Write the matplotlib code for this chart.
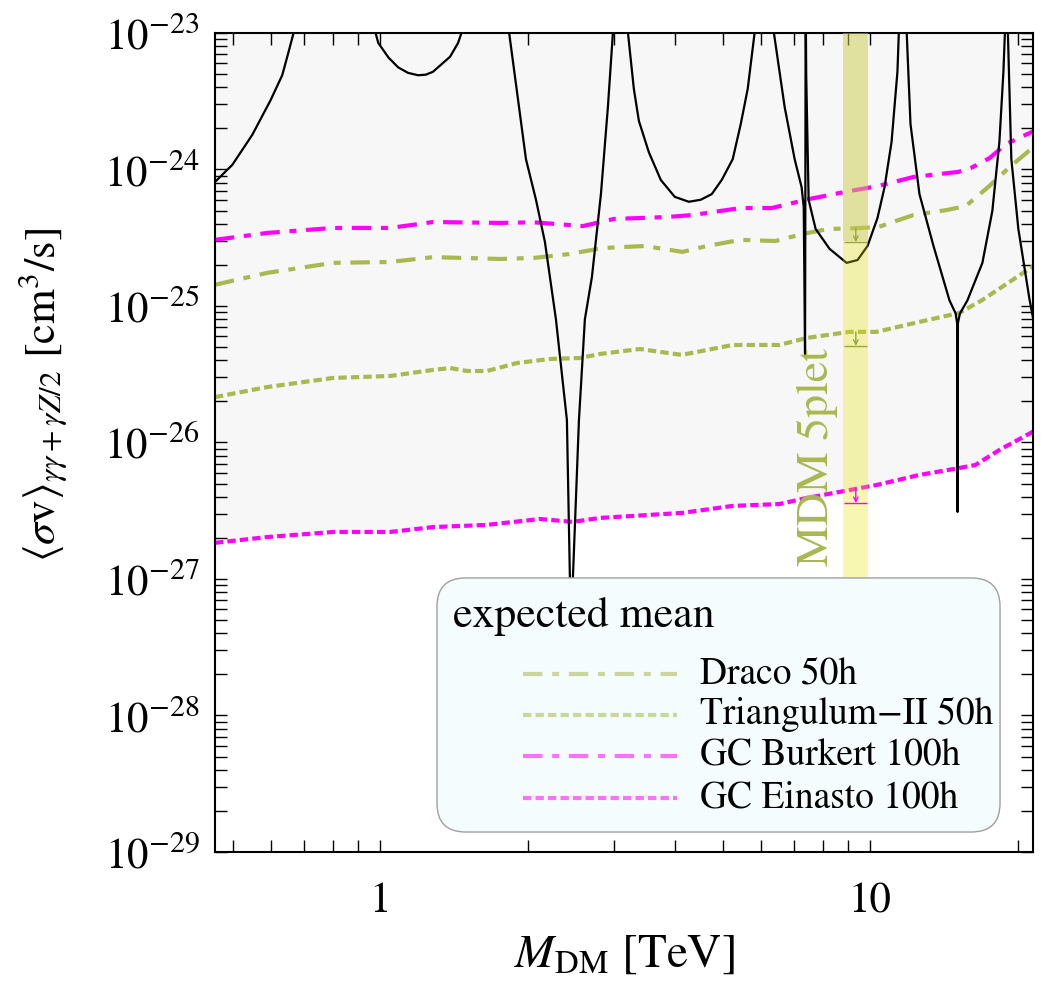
#!/usr/bin/env python3
"""
MDM 5plet gamma-line cross section vs expected sensitivities
"""
import numpy as np
import matplotlib.pyplot as plt
import matplotlib.ticker as mticker
from matplotlib.patches import FancyBboxPatch

plt.rcParams['font.family'] = ['STIXGeneral', 'Liberation Serif', 'DejaVu Serif']
plt.rcParams['mathtext.fontset'] = 'stix'
plt.rcParams['lines.scale_dashes'] = False

OLIVE = '#a9b84f'
MAGENTA = '#ff00ff'

# ── theory curve (black), one piece between successive resonance poles ──
seg1_m  = [0.46, 0.499, 0.548, 0.597, 0.631, 0.649, 0.668]
seg1_sv = [8.1e-25, 1.08e-24, 1.79e-24, 3.2e-24, 4.9e-24, 7.1e-24, 1.05e-23]

seg2_m  = [0.975, 0.991, 1.04, 1.088, 1.14, 1.195, 1.24, 1.282, 1.389, 1.442, 1.472]
seg2_sv = [1.05e-23, 8.45e-24, 6.6e-24, 5.6e-24, 5.1e-24, 4.9e-24, 4.95e-24, 5.2e-24,
           6.7e-24, 8.45e-24, 1.05e-23]

seg3_m  = [1.83, 1.984, 2.08, 2.169, 2.284, 2.405, 2.439, 2.456, 2.474, 2.545, 2.617,
           2.705, 2.822, 2.916, 2.988]
seg3_sv = [1.05e-23, 1.19e-24, 5.98e-25, 2.94e-25, 8.0e-26, 1.46e-26, 1.03e-27, 3e-28,
           1.03e-27, 1.46e-26, 8.0e-26, 1.63e-25, 6.6e-25, 2.87e-24, 1.05e-23]

seg4_m  = [3.2, 3.294, 3.373, 3.534, 3.739, 3.993, 4.265, 4.511, 4.751, 4.979, 5.243,
           5.444, 5.626, 5.82]
seg4_sv = [1.05e-23, 3.9e-24, 2.27e-24, 1.34e-24, 8.38e-25, 6.3e-25, 5.8e-25, 6.0e-25,
           6.6e-25, 8.38e-25, 1.19e-24, 2.15e-24, 3.9e-24, 1.05e-23]

seg5_m  = [6.35, 6.692, 7.014, 7.248, 7.32, 7.365, 7.375, 7.385, 7.395, 7.405, 7.49,
           7.74, 8.265, 8.953, 9.425, 9.879, 10.35, 10.70, 11.06, 11.37, 11.45]
seg5_sv = [1.05e-23, 2.87e-24, 1.19e-24, 7.4e-25, 5.3e-25, 4.45e-26, 5.3e-25, 1.05e-23,
           1.05e-23, 5.0e-24, 6.0e-25, 3.67e-25, 2.62e-25, 2.07e-25, 2.17e-25, 2.75e-25,
           4.4e-25, 7.4e-25, 1.59e-24, 5.2e-24, 1.05e-23]

seg6_m  = [11.87, 12.09, 12.61, 13.47, 14.52, 14.95, 15.05, 15.08, 15.11, 15.25, 15.8,
           16.95, 17.76, 18.36, 18.71, 18.85]
seg6_sv = [1.05e-23, 2.15e-24, 6.6e-25, 2.75e-25, 1.1e-25, 8.8e-26, 7.5e-26, 3.1e-27,
           7.5e-26, 8.8e-26, 1.1e-25, 2.07e-25, 4.96e-25, 1.59e-24, 5.2e-24, 1.05e-23]

seg7_m  = [19.1, 19.42, 20.07, 21.14, 21.6]
seg7_sv = [1.05e-23, 1.19e-24, 3.67e-25, 1.13e-25, 7.5e-26]

theory_segments = [(seg1_m, seg1_sv), (seg2_m, seg2_sv), (seg3_m, seg3_sv),
                   (seg4_m, seg4_sv), (seg5_m, seg5_sv), (seg6_m, seg6_sv),
                   (seg7_m, seg7_sv)]

# ── expected mean sensitivities ──
draco_m  = [0.46, 0.589, 0.802, 1.048, 1.282, 1.757, 2.06, 2.43, 2.847, 3.467, 4.14,
            4.64, 5.44, 6.41, 7.28, 8.19, 9.47, 10.4, 12.26, 14.36, 15.68, 17.52, 19.2, 21.5]
draco_sv = [1.43e-25, 1.75e-25, 2.07e-25, 2.1e-25, 2.28e-25, 2.21e-25, 2.25e-25, 2.4e-25,
            2.66e-25, 2.75e-25, 2.49e-25, 2.75e-25, 3.05e-25, 2.99e-25, 3.37e-25, 3.66e-25,
            3.72e-25, 3.79e-25, 4.64e-25, 5.05e-25, 5.4e-25, 7.57e-25, 1.03e-24, 1.45e-24]

triang_m  = [0.46, 0.589, 0.802, 1.048, 1.282, 1.389, 1.504, 1.652, 1.902, 2.219, 2.557,
             2.81, 3.388, 4.126, 5.24, 6.53, 7.42, 9.07, 10.3, 12.6, 15.2, 16.9, 21.5]
triang_sv = [2.15e-26, 2.55e-26, 2.97e-26, 3.07e-26, 3.4e-26, 3.51e-26, 3.34e-26, 3.34e-26,
             3.82e-26, 4.09e-26, 4.16e-26, 4.45e-26, 4.84e-26, 4.38e-26, 5.18e-26, 5.18e-26,
             5.83e-26, 6.46e-26, 6.46e-26, 7.64e-26, 8.89e-26, 1.1e-25, 1.95e-25]

burkert_m  = [0.46, 0.589, 0.802, 1.048, 1.282, 1.757, 2.06, 2.593, 3.0, 3.83, 4.35, 5.44,
              6.3, 7.52, 8.87, 10.4, 12.26, 15.14, 16.1, 17.52, 18.97, 21.5]
burkert_sv = [3.05e-25, 3.43e-25, 3.73e-25, 3.73e-25, 4.12e-25, 4.06e-25, 4.1e-25, 3.85e-25,
              4.34e-25, 4.48e-25, 4.64e-25, 5.22e-25, 5.22e-25, 6.08e-25, 6.84e-25, 7.57e-25,
              8.81e-25, 9.6e-25, 1.03e-24, 1.21e-24, 1.54e-24, 1.9e-24]

einasto_m  = [0.46, 0.589, 0.802, 1.048, 1.282, 1.652, 2.117, 2.473, 2.81, 4.14, 5.24, 6.53,
              7.42, 9.07, 10.3, 12.6, 15.2, 16.4, 18.36, 21.5]
einasto_sv = [1.84e-27, 2.03e-27, 2.21e-27, 2.21e-27, 2.4e-27, 2.49e-27, 2.75e-27, 2.62e-27,
              2.8e-27, 3.05e-27, 3.43e-27, 3.54e-27, 3.92e-27, 4.48e-27, 4.88e-27, 5.78e-27,
              6.5e-27, 6.84e-27, 8.81e-27, 1.2e-26]

band_m = [8.8, 9.9]
band_center = 9.35
band_dark_floor = 3.0e-25
marker_top = [3.72e-25, 6.46e-26, 4.64e-27]   # Draco, Triangulum-II, GC Einasto
marker_bot = [2.94e-25, 5.1e-26, 3.6e-27]

labels = ['Draco 50h', 'Triangulum\u2212II 50h', 'GC Burkert 100h', 'GC Einasto 100h']
y_decades = [1e-29, 1e-28, 1e-27, 1e-26, 1e-25, 1e-24, 1e-23]

XMIN, XMAX = 0.46, 21.5
YMIN, YMAX = 1e-29, 1e-23

DASHDOT = (0, (14, 7, 5, 7))
DOTTED = (0, (6, 3))

# ── Plot ──
fig = plt.figure(figsize=(10.43, 9.81), dpi=100)
ax = fig.add_axes([0.2061, 0.1315, 0.7843, 0.8349])
ax.set_xscale('log')
ax.set_yscale('log')

# projected excluded region (above GC Einasto)
ax.fill_between(einasto_m, einasto_sv, YMAX, color='#f7f7f7', lw=0, zorder=0)

ax.plot(draco_m, draco_sv, color=OLIVE, lw=3, linestyle=DASHDOT, zorder=2)
ax.plot(triang_m, triang_sv, color=OLIVE, lw=3, linestyle=DOTTED, zorder=2)
ax.plot(burkert_m, burkert_sv, color=MAGENTA, lw=3, linestyle=DASHDOT, zorder=2)
ax.plot(einasto_m, einasto_sv, color=MAGENTA, lw=3, linestyle=DOTTED, zorder=2)

for m, sv in theory_segments:
    ax.plot(m, sv, color='black', lw=1.6, zorder=3)

# MDM 5plet band
ax.fill_between(band_m, 1e-27, YMAX, color='#e6e600', alpha=0.3, lw=0, zorder=4)
ax.fill_between(band_m, band_dark_floor, YMAX, color='#bdbd82', alpha=0.3, lw=0, zorder=4)

for top, bot, col in zip(marker_top, marker_bot, ['#9aa838', '#9aa838', MAGENTA]):
    ax.hlines(bot, band_m[0] + 0.05, band_m[1] - 0.05, color=col, lw=1, zorder=5)
    ax.annotate('', xy=(band_center, bot), xytext=(band_center, top),
                arrowprops=dict(arrowstyle='->', color=col, lw=1, mutation_scale=8,
                                shrinkA=0, shrinkB=0), zorder=5)

ax.text(7.8, 7.8e-27, 'MDM 5plet', rotation=90, ha='center', va='center',
        fontsize=33, color=OLIVE, zorder=5)

# ── legend (drawn by hand to get the indented entries) ──
box = FancyBboxPatch((0.2714, 0.0244), 0.6883, 0.3102, transform=ax.transAxes,
                     boxstyle='round,pad=0,rounding_size=0.035',
                     facecolor='#f5fcfd', edgecolor='#a0a0a0', lw=1, zorder=6)
ax.add_patch(box)
ax.text(0.291, 0.287, 'expected mean', transform=ax.transAxes, ha='left', va='center',
        fontsize=31.5, zorder=7)
row_y = [0.2173, 0.1673, 0.1172, 0.0659]
styles = [(OLIVE, DASHDOT), (OLIVE, DOTTED), (MAGENTA, DASHDOT), (MAGENTA, DOTTED)]
for y, (col, ls), lab in zip(row_y, styles, labels):
    ax.plot([0.3765, 0.5654], [y, y], transform=ax.transAxes, color=col, ls=ls, lw=3,
            alpha=0.55, clip_on=False, zorder=7)
    ax.text(0.5929, y, lab, transform=ax.transAxes, ha='left', va='center',
            fontsize=27, zorder=7)

# ── axes, ticks ──
ax.set_xlim(XMIN, XMAX)
ax.set_ylim(YMIN, YMAX)
ax.xaxis.set_major_locator(mticker.FixedLocator([1, 10]))
ax.xaxis.set_major_formatter(mticker.FixedFormatter(['1', '10']))
ax.xaxis.set_minor_locator(mticker.LogLocator(base=10, subs=np.arange(2, 10), numticks=50))
ax.xaxis.set_minor_formatter(mticker.NullFormatter())
ax.yaxis.set_major_locator(mticker.FixedLocator(y_decades))
ax.yaxis.set_major_formatter(mticker.LogFormatterMathtext())
ax.yaxis.set_minor_locator(mticker.LogLocator(base=10, subs=np.arange(2, 10), numticks=100))
ax.yaxis.set_minor_formatter(mticker.NullFormatter())
ax.tick_params(which='both', direction='in', top=True, right=True, length=8.5, width=1.0,
               labelsize=31)
ax.tick_params(axis='x', which='both', pad=22)
ax.tick_params(axis='y', which='both', pad=11)
for s in ax.spines.values():
    s.set_linewidth(1.5)

ax.set_xlabel(r'$M_{\mathrm{DM}}$ [TeV]', fontsize=34)
ax.xaxis.set_label_coords(0.5, -0.1)
ax.set_ylabel(r'$\langle\sigma\mathrm{v}\rangle_{\gamma\gamma+\gamma Z/2}$ [cm$^3$/s]',
              fontsize=32)
ax.yaxis.set_label_coords(-0.178, 0.558)

plt.savefig('out.png', dpi=100)
print('Done -> out.png')
